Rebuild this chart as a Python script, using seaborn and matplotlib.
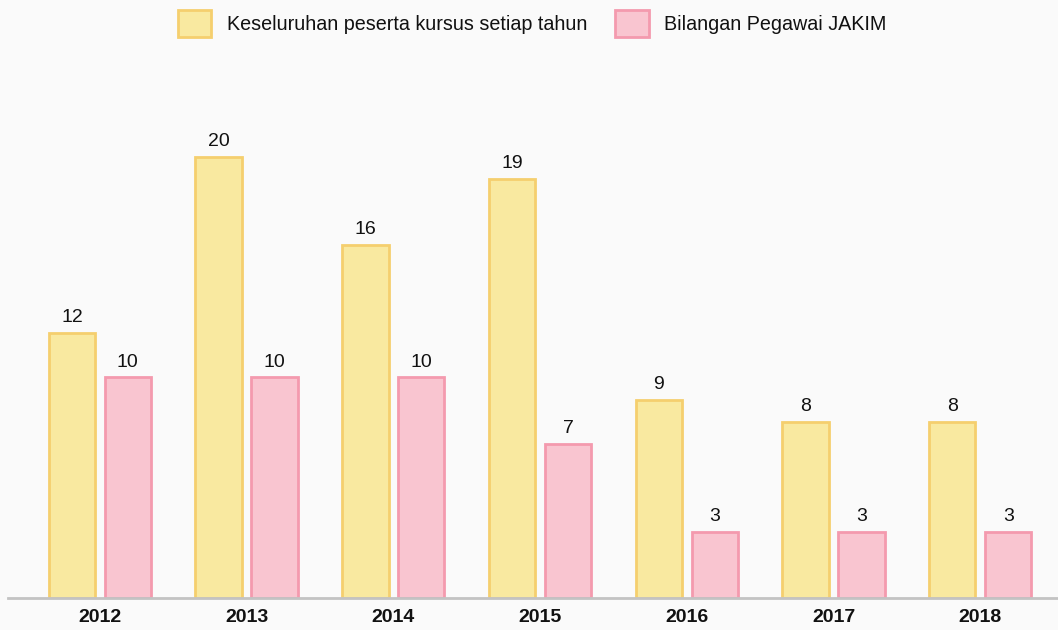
import pandas as pd
import seaborn as sns
import matplotlib.pyplot as plt

# data
tahun = ['2012', '2013', '2014', '2015', '2016', '2017', '2018']
peserta = [12, 20, 16, 19, 9, 8, 8]
pegawai = [10, 10, 10, 7, 3, 3, 3]
siri = ['Keseluruhan peserta kursus setiap tahun', 'Bilangan Pegawai JAKIM']

dados = pd.DataFrame({
    'tahun': tahun * 2,
    'nilai': peserta + pegawai,
    'siri': [siri[0]] * len(tahun) + [siri[1]] * len(tahun),
})

sns.set_style('white')
plt.rcParams['font.family'] = ['Liberation Sans', 'DejaVu Sans']

fill = ['#f9e9a0', '#f9c5d0']
edge = ['#f5cf6e', '#f49aae']

fig = plt.figure(figsize=(10.58, 6.3), dpi=100)
fig.patch.set_facecolor('#fafafa')
ax = fig.add_axes([8 / 1058, 32 / 630, 1 - 8 / 1058, 548 / 630])
ax.set_facecolor('none')

sns.barplot(data=dados, x='tahun', y='nilai', hue='siri', hue_order=siri,
            palette=fill, saturation=1, width=0.762, gap=0.17, ax=ax)

# edges per series
for cont, ec in zip(ax.containers, edge):
    for bar in cont:
        bar.set_edgecolor(ec)
        bar.set_linewidth(2)
    ax.bar_label(cont, padding=5, fontsize=14, color='#111111')

ax.set_xlim(-0.626, 6.53)
ax.set_ylim(0, 24.85)
ax.set_xlabel('')
ax.set_ylabel('')
ax.set_yticks([])
for s in ['top', 'right', 'left']:
    ax.spines[s].set_visible(False)
ax.spines['bottom'].set_color('#c3c3c3')
ax.spines['bottom'].set_linewidth(2)
ax.tick_params(axis='x', length=0, pad=8, labelsize=14, labelcolor='#111111')
for lbl in ax.get_xticklabels():
    lbl.set_fontweight('bold')

handles, labels = ax.get_legend_handles_labels()
ax.get_legend().remove()
for h, ec in zip(handles, edge):
    h.set_edgecolor(ec)
    h.set_linewidth(2)
fig.legend(handles=handles, labels=labels, loc='upper center',
           bbox_to_anchor=(0.503, 1.012), ncol=2, frameon=False,
           fontsize=14.2, handlelength=1.7, handleheight=1.7,
           handletextpad=0.8, columnspacing=1.4, labelcolor='#111111')

fig.savefig('out.png', dpi=100, facecolor=fig.get_facecolor())
